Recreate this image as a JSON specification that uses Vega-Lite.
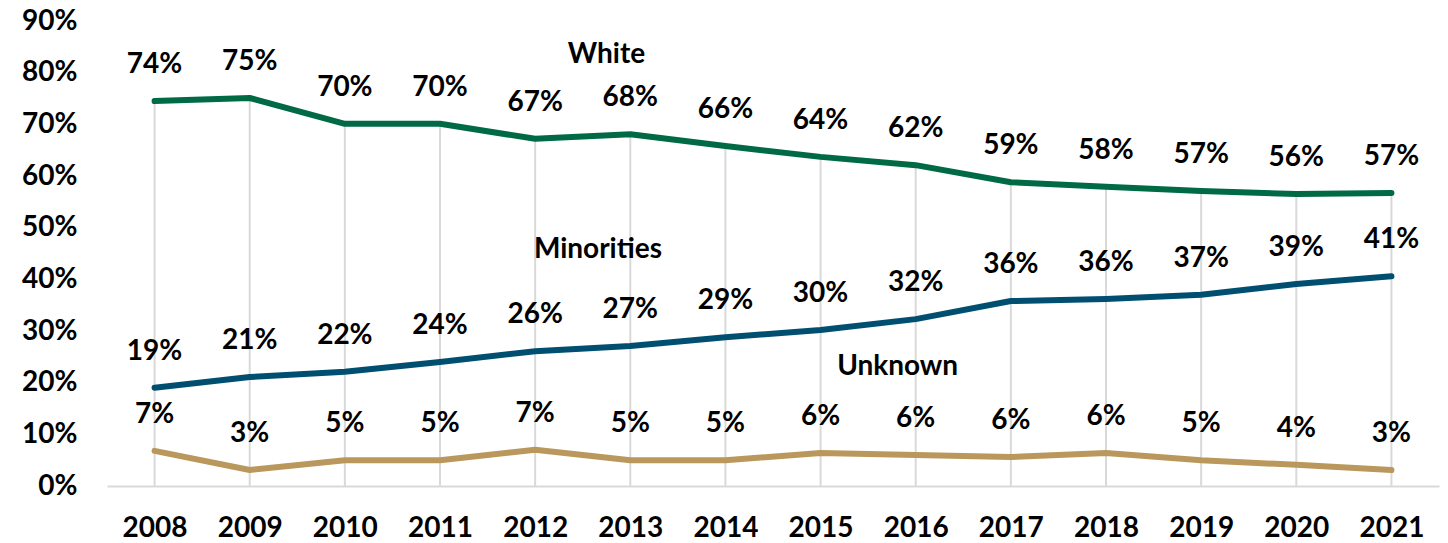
{
  "$schema": "https://vega.github.io/schema/vega-lite/v6.json",
  "width": 1332,
  "height": 465,
  "autosize": {"type": "none"},
  "padding": {"left": 107, "top": 21, "right": 9, "bottom": 57},
  "background": "white",
  "config": {
    "view": {"stroke": null},
    "text": {"font": "Lato", "fontWeight": "bold", "fontSize": 28, "color": "#000000"}
  },
  "datasets": {
    "main": [
      {"year": 2008, "series": "White", "value": 0.745, "label": "74%"},
      {"year": 2009, "series": "White", "value": 0.751, "label": "75%"},
      {"year": 2010, "series": "White", "value": 0.701, "label": "70%"},
      {"year": 2011, "series": "White", "value": 0.701, "label": "70%"},
      {"year": 2012, "series": "White", "value": 0.672, "label": "67%"},
      {"year": 2013, "series": "White", "value": 0.681, "label": "68%"},
      {"year": 2014, "series": "White", "value": 0.658, "label": "66%"},
      {"year": 2015, "series": "White", "value": 0.637, "label": "64%"},
      {"year": 2016, "series": "White", "value": 0.621, "label": "62%"},
      {"year": 2017, "series": "White", "value": 0.588, "label": "59%"},
      {"year": 2018, "series": "White", "value": 0.579, "label": "58%"},
      {"year": 2019, "series": "White", "value": 0.571, "label": "57%"},
      {"year": 2020, "series": "White", "value": 0.565, "label": "56%"},
      {"year": 2021, "series": "White", "value": 0.567, "label": "57%"},
      {"year": 2008, "series": "Minorities", "value": 0.190, "label": "19%"},
      {"year": 2009, "series": "Minorities", "value": 0.211, "label": "21%"},
      {"year": 2010, "series": "Minorities", "value": 0.221, "label": "22%"},
      {"year": 2011, "series": "Minorities", "value": 0.240, "label": "24%"},
      {"year": 2012, "series": "Minorities", "value": 0.261, "label": "26%"},
      {"year": 2013, "series": "Minorities", "value": 0.271, "label": "27%"},
      {"year": 2014, "series": "Minorities", "value": 0.288, "label": "29%"},
      {"year": 2015, "series": "Minorities", "value": 0.302, "label": "30%"},
      {"year": 2016, "series": "Minorities", "value": 0.323, "label": "32%"},
      {"year": 2017, "series": "Minorities", "value": 0.358, "label": "36%"},
      {"year": 2018, "series": "Minorities", "value": 0.362, "label": "36%"},
      {"year": 2019, "series": "Minorities", "value": 0.370, "label": "37%"},
      {"year": 2020, "series": "Minorities", "value": 0.391, "label": "39%"},
      {"year": 2021, "series": "Minorities", "value": 0.406, "label": "41%"},
      {"year": 2008, "series": "Unknown", "value": 0.068, "label": "7%"},
      {"year": 2009, "series": "Unknown", "value": 0.031, "label": "3%"},
      {"year": 2010, "series": "Unknown", "value": 0.050, "label": "5%"},
      {"year": 2011, "series": "Unknown", "value": 0.050, "label": "5%"},
      {"year": 2012, "series": "Unknown", "value": 0.070, "label": "7%"},
      {"year": 2013, "series": "Unknown", "value": 0.050, "label": "5%"},
      {"year": 2014, "series": "Unknown", "value": 0.050, "label": "5%"},
      {"year": 2015, "series": "Unknown", "value": 0.064, "label": "6%"},
      {"year": 2016, "series": "Unknown", "value": 0.060, "label": "6%"},
      {"year": 2017, "series": "Unknown", "value": 0.056, "label": "6%"},
      {"year": 2018, "series": "Unknown", "value": 0.064, "label": "6%"},
      {"year": 2019, "series": "Unknown", "value": 0.050, "label": "5%"},
      {"year": 2020, "series": "Unknown", "value": 0.041, "label": "4%"},
      {"year": 2021, "series": "Unknown", "value": 0.031, "label": "3%"}
    ],
    "names": [
      {"name": "White", "x": 2012.75, "y": 0.834},
      {"name": "Minorities", "x": 2012.66, "y": 0.457},
      {"name": "Unknown", "x": 2015.81, "y": 0.230}
    ]
  },
  "data": {"name": "main"},
  "layer": [
    {
      "transform": [{"filter": "datum.series === 'White'"}],
      "mark": {"type": "rule", "color": "#D9D9D9", "strokeWidth": 2},
      "encoding": {
        "x": {
          "field": "year", "type": "quantitative",
          "scale": {"domain": [2007.5, 2021.5], "nice": false, "zero": false},
          "axis": {
            "values": [2008, 2009, 2010, 2011, 2012, 2013, 2014, 2015, 2016, 2017, 2018, 2019, 2020, 2021],
            "format": "d", "title": null, "grid": false, "ticks": false,
            "domainColor": "#D9D9D9", "domainWidth": 2,
            "labelFont": "Lato", "labelFontWeight": "bold", "labelFontSize": 28,
            "labelColor": "#000000", "labelPadding": 28
          }
        },
        "y": {
          "field": "value", "type": "quantitative",
          "scale": {"domain": [0, 0.9], "nice": false},
          "axis": {
            "values": [0, 0.1, 0.2, 0.3, 0.4, 0.5, 0.6, 0.7, 0.8, 0.9],
            "format": ".0%", "title": null, "grid": false, "ticks": false, "domain": false,
            "labelFont": "Lato", "labelFontWeight": "bold", "labelFontSize": 28,
            "labelColor": "#000000", "labelPadding": 30
          }
        },
        "y2": {"datum": 0}
      }
    },
    {
      "mark": {"type": "line", "strokeWidth": 6, "strokeCap": "round", "strokeJoin": "round"},
      "encoding": {
        "x": {"field": "year", "type": "quantitative"},
        "y": {"field": "value", "type": "quantitative"},
        "color": {
          "field": "series", "type": "nominal",
          "scale": {"domain": ["White", "Minorities", "Unknown"], "range": ["#006A45", "#004F71", "#BA975C"]},
          "legend": null
        }
      }
    },
    {
      "mark": {"type": "text", "dy": -36, "baseline": "middle", "align": "center"},
      "encoding": {
        "x": {"field": "year", "type": "quantitative"},
        "y": {"field": "value", "type": "quantitative"},
        "text": {"field": "label"}
      }
    },
    {
      "data": {"name": "names"},
      "mark": {"type": "text", "baseline": "middle", "align": "center"},
      "encoding": {
        "x": {"field": "x", "type": "quantitative"},
        "y": {"field": "y", "type": "quantitative"},
        "text": {"field": "name"}
      }
    }
  ]
}
